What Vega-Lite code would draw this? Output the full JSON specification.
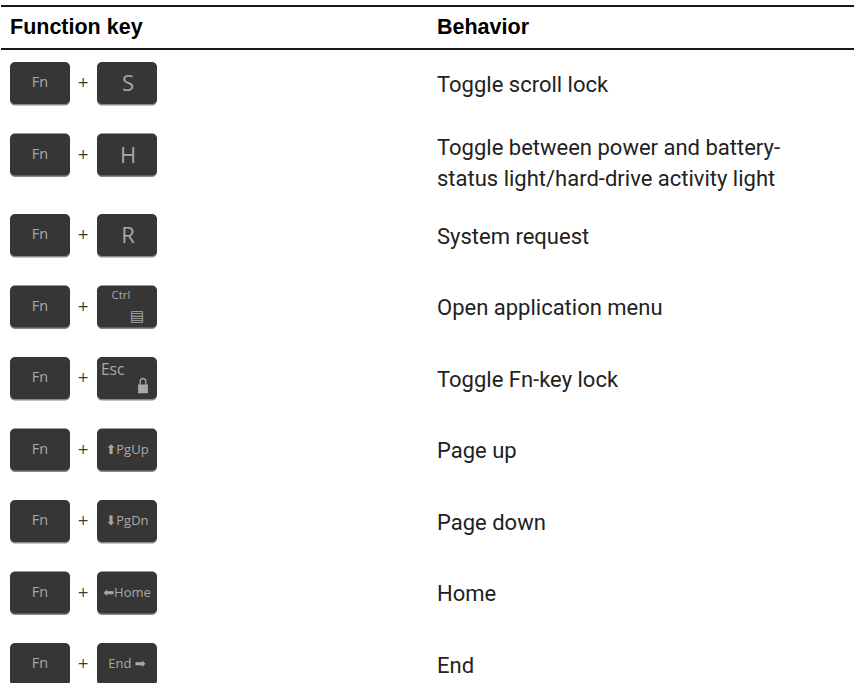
{
  "$schema": "https://vega.github.io/schema/vega-lite/v6.json",
  "width": 855,
  "height": 683,
  "padding": 0,
  "autosize": {"type": "fit", "contains": "padding"},
  "background": "white",
  "config": {"view": {"stroke": null}},
  "datasets": {
    "keys": [
      {"row": 1, "key1": "Fn", "key2": "S", "behavior": "Toggle scroll lock"},
      {"row": 2, "key1": "Fn", "key2": "H", "behavior": "Toggle between power and battery-\nstatus light/hard-drive activity light"},
      {"row": 3, "key1": "Fn", "key2": "R", "behavior": "System request"},
      {"row": 4, "key1": "Fn", "key2": "Ctrl", "behavior": "Open application menu"},
      {"row": 5, "key1": "Fn", "key2": "Esc", "behavior": "Toggle Fn-key lock"},
      {"row": 6, "key1": "Fn", "key2": "⬆PgUp", "behavior": "Page up"},
      {"row": 7, "key1": "Fn", "key2": "⬇PgDn", "behavior": "Page down"},
      {"row": 8, "key1": "Fn", "key2": "⬅Home", "behavior": "Home"},
      {"row": 9, "key1": "Fn", "key2": "End ➡", "behavior": "End"}
    ],
    "header": [
      {"column": "key", "title": "Function key"},
      {"column": "behavior", "title": "Behavior"}
    ]
  },
  "data": {"name": "keys"},
  "layer": [
    {
      "mark": {"type": "rect", "fill": "#8a8a8a", "cornerRadius": 5, "yOffset": -20, "y2Offset": 22.5},
      "encoding": {
        "x": {"datum": 10, "type": "quantitative", "scale": {"domain": [0, 855], "nice": false, "zero": false}, "axis": null},
        "x2": {"datum": 70},
        "y": {"field": "row", "type": "quantitative", "scale": {"domain": [0, 1, 2, 3, 9], "range": [28, 83, 154.5, 235, 664], "nice": false, "zero": false}, "axis": null},
        "y2": {"field": "row"}
      }
    },
    {
      "mark": {"type": "rect", "fill": "#363636", "cornerRadius": 5, "yOffset": -21, "y2Offset": 21},
      "encoding": {
        "x": {"datum": 10, "type": "quantitative"},
        "x2": {"datum": 70},
        "y": {"field": "row", "type": "quantitative"},
        "y2": {"field": "row"}
      }
    },
    {
      "mark": {"type": "rect", "fill": "#8a8a8a", "cornerRadius": 5, "yOffset": -20, "y2Offset": 22.5},
      "encoding": {
        "x": {"datum": 97, "type": "quantitative"},
        "x2": {"datum": 157},
        "y": {"field": "row", "type": "quantitative"},
        "y2": {"field": "row"}
      }
    },
    {
      "mark": {"type": "rect", "fill": "#363636", "cornerRadius": 5, "yOffset": -21, "y2Offset": 21},
      "encoding": {
        "x": {"datum": 97, "type": "quantitative"},
        "x2": {"datum": 157},
        "y": {"field": "row", "type": "quantitative"},
        "y2": {"field": "row"}
      }
    },
    {
      "mark": {"type": "rule", "color": "#1a1a1a", "strokeWidth": 2.2, "strokeCap": "butt"},
      "encoding": {
        "x": {"datum": 1.2, "type": "quantitative"},
        "x2": {"datum": 853.8},
        "y": {"datum": -0.4, "type": "quantitative"}
      }
    },
    {
      "mark": {"type": "rule", "color": "#1a1a1a", "strokeWidth": 1.6, "strokeCap": "butt"},
      "encoding": {
        "x": {"datum": 1.2, "type": "quantitative"},
        "x2": {"datum": 853.8},
        "y": {"datum": 0.385, "type": "quantitative"}
      }
    },
    {
      "data": {"name": "header"},
      "transform": [{"filter": "datum.column == 'key'"}],
      "mark": {"type": "text", "align": "left", "baseline": "middle", "font": "Liberation Sans", "fontWeight": "bold", "fontSize": 21.5, "color": "#000"},
      "encoding": {
        "x": {"datum": 10, "type": "quantitative"},
        "y": {"datum": 0, "type": "quantitative"},
        "text": {"field": "title"}
      }
    },
    {
      "data": {"name": "header"},
      "transform": [{"filter": "datum.column == 'behavior'"}],
      "mark": {"type": "text", "align": "left", "baseline": "middle", "font": "Liberation Sans", "fontWeight": "bold", "fontSize": 21.5, "color": "#000"},
      "encoding": {
        "x": {"datum": 437, "type": "quantitative"},
        "y": {"datum": 0, "type": "quantitative"},
        "text": {"field": "title"}
      }
    },
    {
      "mark": {"type": "text", "align": "center", "baseline": "middle", "font": "Open Sans", "fontSize": 14.5, "color": "#a8a8a8"},
      "encoding": {
        "x": {"datum": 40, "type": "quantitative"},
        "y": {"field": "row", "type": "quantitative"},
        "text": {"field": "key1"}
      }
    },
    {
      "mark": {"type": "text", "align": "center", "baseline": "middle", "font": "DejaVu Sans", "fontSize": 14, "color": "#3a3a3a"},
      "encoding": {
        "x": {"datum": 83, "type": "quantitative"},
        "y": {"field": "row", "type": "quantitative"},
        "text": {"value": "+"}
      }
    },
    {
      "transform": [{"filter": "length(datum.key2) == 1"}],
      "mark": {"type": "text", "align": "center", "baseline": "middle", "font": "Open Sans", "fontSize": 22, "color": "#a8a8a8", "dy": 1},
      "encoding": {
        "x": {"datum": 128, "type": "quantitative"},
        "y": {"field": "row", "type": "quantitative"},
        "text": {"field": "key2"}
      }
    },
    {
      "transform": [{"filter": "length(datum.key2) > 4"}],
      "mark": {"type": "text", "align": "center", "baseline": "middle", "font": "Open Sans, DejaVu Sans", "fontSize": 13, "color": "#a8a8a8"},
      "encoding": {
        "x": {"datum": 127, "type": "quantitative"},
        "y": {"field": "row", "type": "quantitative"},
        "text": {"field": "key2"}
      }
    },
    {
      "transform": [{"filter": "datum.key2 == 'Ctrl'"}],
      "mark": {"type": "text", "align": "center", "baseline": "middle", "font": "Open Sans", "fontSize": 11.5, "color": "#a8a8a8", "dy": -11},
      "encoding": {
        "x": {"datum": 121, "type": "quantitative"},
        "y": {"field": "row", "type": "quantitative"},
        "text": {"field": "key2"}
      }
    },
    {
      "transform": [{"filter": "datum.key2 == 'Ctrl'"}],
      "mark": {"type": "text", "align": "center", "baseline": "middle", "font": "DejaVu Sans", "fontSize": 15, "color": "#a8a8a8", "dy": 9},
      "encoding": {
        "x": {"datum": 137, "type": "quantitative"},
        "y": {"field": "row", "type": "quantitative"},
        "text": {"value": "▤"}
      }
    },
    {
      "transform": [{"filter": "datum.key2 == 'Esc'"}],
      "mark": {"type": "text", "align": "left", "baseline": "middle", "font": "Open Sans", "fontSize": 15.5, "color": "#a8a8a8", "dy": -8},
      "encoding": {
        "x": {"datum": 101, "type": "quantitative"},
        "y": {"field": "row", "type": "quantitative"},
        "text": {"field": "key2"}
      }
    },
    {
      "transform": [{"filter": "datum.key2 == 'Esc'"}],
      "mark": {"type": "point", "filled": true, "color": "#a8a8a8", "opacity": 1, "size": 270, "yOffset": 7, "shape": "M-0.6,-0.05 L0.6,-0.05 L0.6,1 L-0.6,1 Z M-0.42,-0.05 L-0.42,-0.45 A0.42,0.42 0 0 1 0.42,-0.45 L0.42,-0.05 L0.26,-0.05 L0.26,-0.45 A0.26,0.26 0 0 0 -0.26,-0.45 L-0.26,-0.05 Z"},
      "encoding": {
        "x": {"datum": 143, "type": "quantitative"},
        "y": {"field": "row", "type": "quantitative"}
      }
    },
    {
      "transform": [{"filter": "indexof(datum.behavior, '\\n') < 0"}],
      "mark": {"type": "text", "align": "left", "baseline": "middle", "font": "Roboto", "fontSize": 22, "color": "#222", "dy": 1.5},
      "encoding": {
        "x": {"datum": 437, "type": "quantitative"},
        "y": {"field": "row", "type": "quantitative"},
        "text": {"field": "behavior"}
      }
    },
    {
      "transform": [{"filter": "indexof(datum.behavior, '\\n') >= 0"}],
      "mark": {"type": "text", "align": "left", "baseline": "middle", "font": "Roboto", "fontSize": 22, "color": "#222", "lineBreak": "\n", "lineHeight": 31, "dy": -7},
      "encoding": {
        "x": {"datum": 437, "type": "quantitative"},
        "y": {"field": "row", "type": "quantitative"},
        "text": {"field": "behavior"}
      }
    }
  ]
}
